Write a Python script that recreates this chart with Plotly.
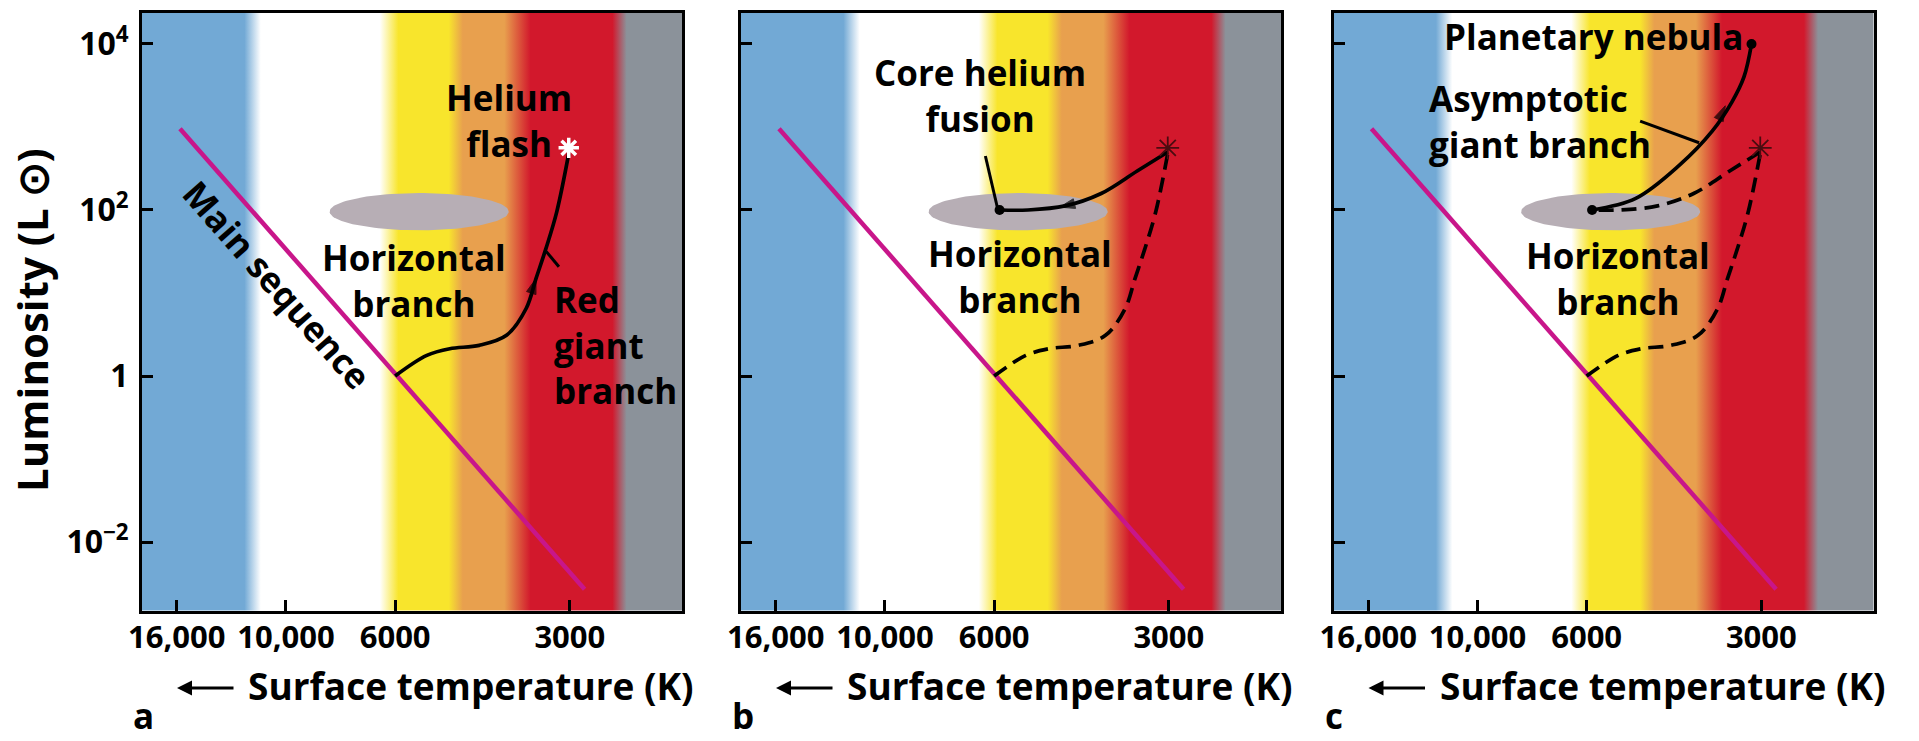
import numpy as np
import plotly.graph_objects as go

W, H = 1919, 741

# ---------------- data ----------------
# schematic temperature axis: tick positions (arbitrary units) and labels
temp_tick_pos = [0, 1, 2, 3.6]
temp_tick_text = ['16,000', '10,000', '6000', '3000']
x_range = [-0.318, 4.627]

lum_tick_vals = [1e-2, 1, 1e2, 1e4]
lum_tick_text = ['10<sup>−2</sup>', '1', '10<sup>2</sup>', '10<sup>4</sup>']
y_range_log = [-2.825, 4.373]

# colour bands across temperature (position, colour)
band_pos = [-0.318, 0.62, 0.77, 1.86, 2.03, 2.49, 2.62, 3.0, 3.24, 3.99, 4.12, 4.627]
band_col = ['#72a9d5', '#72a9d5', '#ffffff', '#ffffff', '#f8e52c', '#f8e52c',
            '#e8a04e', '#e8a04e', '#d2182c', '#d2182c', '#8b929a', '#8b929a']

# main sequence
ms_x = [0.03, 3.735]
ms_L = [950, 0.0027]

# red giant branch (from main sequence turn-off to helium flash)
rgb_x = [2.0, 2.29, 2.5, 2.77, 3.02, 3.2, 3.29, 3.38, 3.48, 3.59]
rgb_L = [1.0, 1.77, 2.13, 2.34, 3.09, 6.5, 14.9, 34, 95, 480]
flash_x, flash_L = 3.59, 560

# helium flash -> horizontal branch
hb_x = [3.59, 3.31, 2.98, 2.65, 2.31, 2.05]
hb_L = [500, 295, 158, 112, 100, 100]
hb_dot_x, hb_dot_L = 2.05, 100

# asymptotic giant branch -> planetary nebula
agb_x = [2.05, 2.45, 2.85, 3.15, 3.33, 3.44, 3.51]
agb_L = [100, 138, 347, 891, 1995, 3981, 10000]
pn_x, pn_L = 3.51, 10000

# horizontal-branch region (ellipse): centre and half sizes
hb_cx, hb_clog, hb_rx, hb_rlog = 2.22, 1.98, 0.82, 0.225

# pointer lines
rg_ptr_x, rg_ptr_L = [3.385, 3.50], [31.5, 20.7]
core_ptr_x, core_ptr_L = [1.92, 2.035], [447, 100]
agb_ptr_x, agb_ptr_L = [2.49, 3.03], [1175, 646]

# arrowheads (previous point, arrow point)
rgb_arrow_x, rgb_arrow_L = [3.2, 3.29], [6.5, 14.9]
hb_arrow_x, hb_arrow_L = [2.72, 2.6], [118, 108]
agb_arrow_x, agb_arrow_L = [3.17, 3.27], [950, 1800]

# ---------------- layout geometry ----------------
panel_left_px = [142, 741, 1333.5]
panel_w_px = 540
y_top_px, y_bot_px = 13, 610.5

FONT = 'Open Sans'
MAGENTA = '#c8168a'


def fnt(size, color='black'):
    return dict(family=FONT, size=size, color=color, weight='bold')


fig = go.Figure()
annotations = []

for i, pl in enumerate(panel_left_px):
    sfx = '' if i == 0 else str(i + 1)
    xa, ya = 'x' + sfx, 'y' + sfx

    # background colour bands
    x0, x1 = -1.0, 6.0
    cs = [[0, band_col[0]]]
    for p, c in zip(band_pos, band_col):
        cs.append([(p - x0) / (x1 - x0), c])
    cs.append([1, band_col[-1]])
    fig.add_trace(go.Scatter(
        x=[x0, x1, x1, x0, x0], y=[1e-4, 1e-4, 1e6, 1e6, 1e-4],
        mode='lines', line=dict(width=0), fill='toself',
        fillgradient=dict(type='horizontal', colorscale=cs, start=x0, stop=x1),
        hoverinfo='skip', xaxis=xa, yaxis=ya, showlegend=False))

    # horizontal branch ellipse
    t = np.linspace(0, 2 * np.pi, 121)
    fig.add_trace(go.Scatter(
        x=hb_cx + hb_rx * np.cos(t), y=10 ** (hb_clog + hb_rlog * np.sin(t)),
        mode='lines', line=dict(width=0), fill='toself', fillcolor='#b7aeb5',
        hoverinfo='skip', xaxis=xa, yaxis=ya, showlegend=False))

    # main sequence
    fig.add_trace(go.Scatter(x=ms_x, y=ms_L, mode='lines',
                             line=dict(color=MAGENTA, width=4.5),
                             xaxis=xa, yaxis=ya, showlegend=False))

    blk = dict(color='black', width=3.7)
    dsh = dict(color='black', width=3.7, dash='15px,8px')
    arrow_marker = dict(symbol=['circle', 'arrow'], size=[0, 16], color='black',
                        line=dict(color='black', width=1), angleref='previous')

    if i == 0:
        fig.add_trace(go.Scatter(x=rgb_x, y=rgb_L, mode='lines', line=dict(shape='spline', **blk),
                                 xaxis=xa, yaxis=ya, showlegend=False))
        fig.add_trace(go.Scatter(x=rgb_arrow_x, y=rgb_arrow_L, mode='markers', marker=arrow_marker,
                                 xaxis=xa, yaxis=ya, showlegend=False))
        fig.add_trace(go.Scatter(x=rg_ptr_x, y=rg_ptr_L, mode='lines', line=dict(color='black', width=3),
                                 xaxis=xa, yaxis=ya, showlegend=False))
        fig.add_trace(go.Scatter(x=[flash_x], y=[flash_L], mode='markers',
                                 marker=dict(symbol='asterisk-open', size=17, color='white',
                                             line=dict(color='white', width=3.5)),
                                 xaxis=xa, yaxis=ya, showlegend=False))
    else:
        fig.add_trace(go.Scatter(x=rgb_x, y=rgb_L, mode='lines', line=dict(shape='spline', **dsh),
                                 xaxis=xa, yaxis=ya, showlegend=False))
        if i == 1:
            fig.add_trace(go.Scatter(x=hb_x, y=hb_L, mode='lines', line=dict(shape='spline', **blk),
                                     xaxis=xa, yaxis=ya, showlegend=False))
            fig.add_trace(go.Scatter(x=hb_arrow_x, y=hb_arrow_L, mode='markers', marker=arrow_marker,
                                     xaxis=xa, yaxis=ya, showlegend=False))
            fig.add_trace(go.Scatter(x=core_ptr_x, y=core_ptr_L, mode='lines',
                                     line=dict(color='black', width=3),
                                     xaxis=xa, yaxis=ya, showlegend=False))
            dots_x, dots_L = [hb_dot_x], [hb_dot_L]
        else:
            fig.add_trace(go.Scatter(x=hb_x, y=hb_L, mode='lines', line=dict(shape='spline', **dsh),
                                     xaxis=xa, yaxis=ya, showlegend=False))
            fig.add_trace(go.Scatter(x=agb_x, y=agb_L, mode='lines', line=dict(shape='spline', **blk),
                                     xaxis=xa, yaxis=ya, showlegend=False))
            fig.add_trace(go.Scatter(x=agb_arrow_x, y=agb_arrow_L, mode='markers', marker=arrow_marker,
                                     xaxis=xa, yaxis=ya, showlegend=False))
            fig.add_trace(go.Scatter(x=agb_ptr_x, y=agb_ptr_L, mode='lines',
                                     line=dict(color='black', width=3),
                                     xaxis=xa, yaxis=ya, showlegend=False))
            dots_x, dots_L = [hb_dot_x, pn_x], [hb_dot_L, pn_L]
        fig.add_trace(go.Scatter(x=[flash_x], y=[flash_L], mode='markers',
                                 marker=dict(symbol='asterisk-open', size=19, color='#4a0c10',
                                             line=dict(color='#4a0c10', width=1.8)),
                                 xaxis=xa, yaxis=ya, showlegend=False))
        fig.add_trace(go.Scatter(x=dots_x, y=dots_L, mode='markers',
                                 marker=dict(symbol='circle', size=10, color='black'),
                                 xaxis=xa, yaxis=ya, showlegend=False))

    # axes
    dom_x = [pl / W, (pl + panel_w_px) / W]
    fig.layout['xaxis' + sfx] = dict(
        domain=dom_x, anchor=ya, range=x_range, showgrid=False, zeroline=False,
        showline=True, linewidth=3, linecolor='black', mirror=True, automargin=False,
        tickmode='array', tickvals=temp_tick_pos, ticktext=temp_tick_text,
        ticks='inside', ticklen=11, tickwidth=3, tickcolor='black',
        tickfont=fnt(31), ticklabelstandoff=-3, fixedrange=True)
    fig.layout['yaxis' + sfx] = dict(
        domain=[1 - y_bot_px / H, 1 - y_top_px / H], anchor=xa, type='log',
        range=y_range_log, showgrid=False, zeroline=False, automargin=False,
        showline=True, linewidth=3, linecolor='black', mirror=True,
        tickmode='array', tickvals=lum_tick_vals, ticktext=lum_tick_text,
        ticks='inside', ticklen=11, tickwidth=3, tickcolor='black',
        showticklabels=(i == 0), tickfont=fnt(32), ticklabelstandoff=4, fixedrange=True)

    # x-axis title with arrow
    off = pl - panel_left_px[0]
    annotations.append(dict(xref='paper', yref='paper', x=(246 + off) / W, y=1 - 685 / H,
                            xanchor='left', yanchor='middle', showarrow=False,
                            text='Surface temperature (K)', font=fnt(37)))
    annotations.append(dict(xref='paper', yref='paper', x=(177 + off) / W, y=1 - 688 / H,
                            ax=58, ay=0, axref='pixel', ayref='pixel', text='',
                            showarrow=True, arrowhead=2, arrowsize=1, arrowwidth=3,
                            arrowcolor='black'))
    annotations.append(dict(xref='paper', yref='paper', x=(131 + off) / W, y=0,
                            xanchor='left', yanchor='bottom', showarrow=False,
                            text='abc'[i], font=fnt(35)))

# panel text labels (data coordinates; y given as log10 for annotations)
def lab(ax_sfx, u, L, text, **kw):
    d = dict(xref='x' + ax_sfx, yref='y' + ax_sfx, x=u, y=np.log10(L), text=text,
             showarrow=False, font=fnt(35), xanchor='center', yanchor='middle')
    d.update(kw)
    annotations.append(d)

lab('', 3.04, 10 ** 3.08, 'Helium<br>flash')
lab('', 2.17, 10 ** 1.145, 'Horizontal<br>branch')
lab('', 3.433, 10 ** 0.373, 'Red<br>giant<br>branch', xanchor='left', align='left')
lab('', 0.92, 10 ** 1.10, 'Main sequence', textangle=48.6)

lab('2', 1.87, 10 ** 3.377, 'Core helium<br>fusion')
lab('2', 2.24, 10 ** 1.2, 'Horizontal<br>branch')

lab('3', 2.06, 10 ** 4.087, 'Planetary nebula')
lab('3', 0.535, 10 ** 3.07, 'Asymptotic<br>giant branch', xanchor='left', align='left')
lab('3', 2.29, 10 ** 1.17, 'Horizontal<br>branch')

# y-axis title
annotations.append(dict(xref='paper', yref='paper', x=31 / W, y=1 - 320 / H,
                        xanchor='center', yanchor='middle', textangle=-90, showarrow=False,
                        text='Luminosity (L ⊙)', font=fnt(42)))

fig.update_layout(width=W, height=H, margin=dict(l=0, r=0, t=0, b=0),
                  paper_bgcolor='white', plot_bgcolor='white', showlegend=False,
                  annotations=annotations)

fig.write_html('out.html')
